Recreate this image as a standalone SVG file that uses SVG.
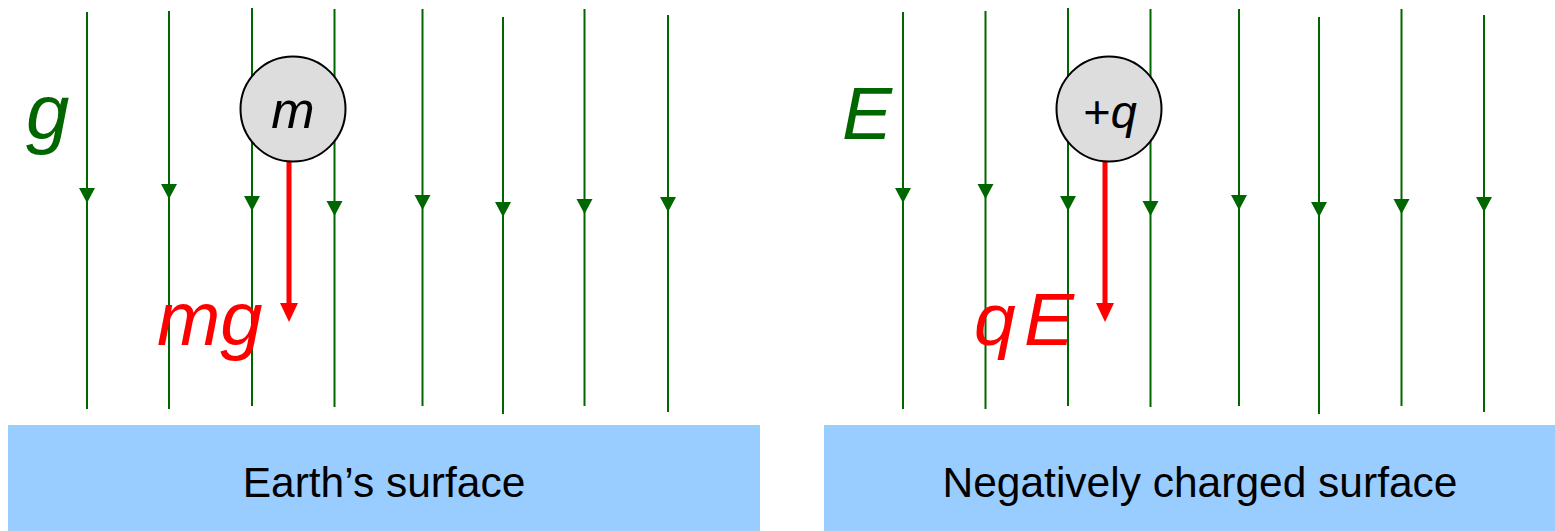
<svg xmlns="http://www.w3.org/2000/svg" xmlns:xlink="http://www.w3.org/1999/xlink" width="1555" height="531" viewBox="0 0 1555 531">
<style>
.fl{stroke:#006600;stroke-width:2;fill:none}
.ah{fill:#006600}
.force{stroke:#ff0000;stroke-width:5;fill:none}
.rh{fill:#ff0000}
.ball{fill:#dddddd;stroke:#000;stroke-width:2}
.it{font-family:"Liberation Sans",Arial,sans-serif;font-style:italic}
.surf{fill:#99ccff}
.st{font-family:"Liberation Sans",Arial,sans-serif;font-size:42.5px;fill:#000;text-anchor:middle}
</style>
<defs>
<path id="ah" d="M-8,-15 L8,-15 L0,0 Z"/>
<path id="rh" d="M-9,-19 L9,-19 L0,0 Z"/>
</defs>

<g id="field-lines">
<line class="fl" x1="87" y1="12" x2="87" y2="409"/><use href="#ah" class="ah" x="87" y="203"/>
<line class="fl" x1="169" y1="11" x2="169" y2="409"/><use href="#ah" class="ah" x="169" y="199"/>
<line class="fl" x1="252" y1="8" x2="252" y2="406"/><use href="#ah" class="ah" x="252" y="211"/>
<line class="fl" x1="334.5" y1="9" x2="334.5" y2="407"/><use href="#ah" class="ah" x="334.5" y="216"/>
<line class="fl" x1="422.5" y1="9" x2="422.5" y2="406"/><use href="#ah" class="ah" x="422.5" y="210"/>
<line class="fl" x1="503" y1="17" x2="503" y2="414"/><use href="#ah" class="ah" x="503" y="217"/>
<line class="fl" x1="584.5" y1="9" x2="584.5" y2="406"/><use href="#ah" class="ah" x="584.5" y="214"/>
<line class="fl" x1="668" y1="15" x2="668" y2="412"/><use href="#ah" class="ah" x="668" y="212"/>

<line class="fl" x1="903" y1="12" x2="903" y2="409"/><use href="#ah" class="ah" x="903" y="203"/>
<line class="fl" x1="985.5" y1="11" x2="985.5" y2="409"/><use href="#ah" class="ah" x="985.5" y="199"/>
<line class="fl" x1="1068" y1="8" x2="1068" y2="406"/><use href="#ah" class="ah" x="1068" y="211"/>
<line class="fl" x1="1150.5" y1="9" x2="1150.5" y2="407"/><use href="#ah" class="ah" x="1150.5" y="216"/>
<line class="fl" x1="1239" y1="9" x2="1239" y2="406"/><use href="#ah" class="ah" x="1239" y="210"/>
<line class="fl" x1="1319" y1="17" x2="1319" y2="414"/><use href="#ah" class="ah" x="1319" y="217"/>
<line class="fl" x1="1401.5" y1="9" x2="1401.5" y2="406"/><use href="#ah" class="ah" x="1401.5" y="214"/>
<line class="fl" x1="1484" y1="15" x2="1484" y2="412"/><use href="#ah" class="ah" x="1484" y="212"/>
</g>

<g id="field-labels">
<text class="it" x="26" y="139" font-size="78" fill="#006600">g</text>
<text class="it" x="842" y="139" font-size="75" fill="#006600">E</text>
</g>

<g id="forces">
<line class="force" x1="289" y1="160" x2="289" y2="305"/><use href="#rh" class="rh" x="289" y="322"/>
<line class="force" x1="1105" y1="160" x2="1105" y2="305"/><use href="#rh" class="rh" x="1105" y="322"/>
<text class="it" x="157" y="345" font-size="76" fill="#ff0000">mg</text>
<text class="it" x="974" y="345" font-size="75" fill="#ff0000">q<tspan x="1024">E</tspan></text>
</g>

<g id="mass">
<circle class="ball" cx="293" cy="109" r="52.5"/>
<text class="it" x="293" y="128" font-size="52" text-anchor="middle" fill="#000">m</text>
</g>

<g id="charge">
<circle class="ball" cx="1109" cy="109" r="52.5"/>
<text class="it" x="1110" y="128" font-size="47" text-anchor="middle" fill="#000"><tspan font-style="normal">+</tspan>q</text>
</g>

<g id="earth-surface">
<rect class="surf" x="8" y="425" width="752" height="106"/>
<text class="st" x="384" y="497">Earth’s surface</text>
</g>

<g id="negative-surface">
<rect class="surf" x="824" y="425" width="731" height="106"/>
<text class="st" x="1200" y="497">Negatively charged surface</text>
</g>
</svg>
